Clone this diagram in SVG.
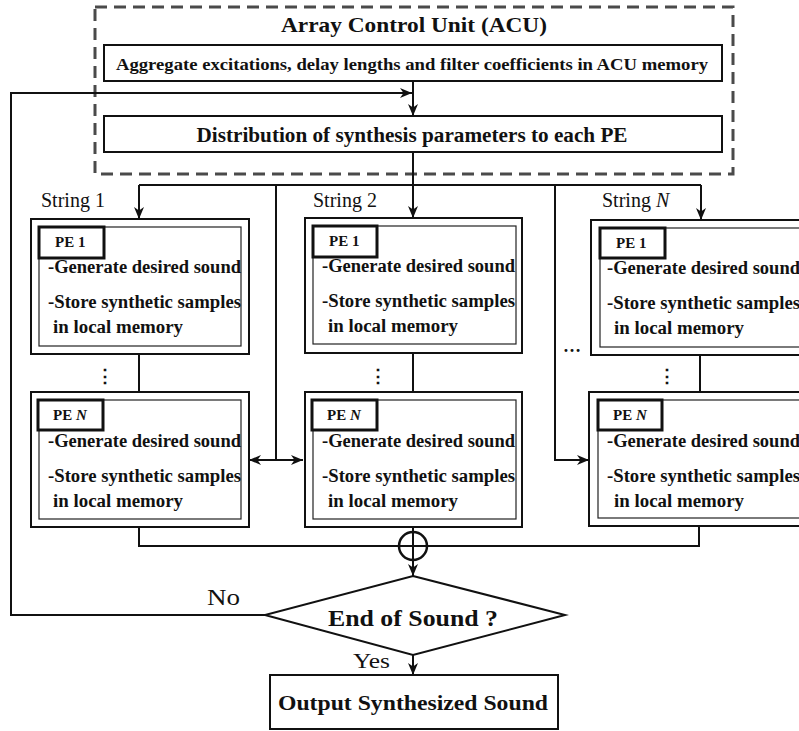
<svg xmlns="http://www.w3.org/2000/svg" width="799" height="731" viewBox="0 0 799 731">
<defs>
<style>
text{font-family:"Liberation Serif","Times New Roman",serif;fill:#111}
.b{font-weight:bold}
.acu{fill:none;stroke:#4a4a4a;stroke-width:3;stroke-dasharray:12 7}
.box{fill:#fff;stroke:#111;stroke-width:2}
.inner{fill:none;stroke:#222;stroke-width:1.2}
.lbl{fill:#fff;stroke:#111;stroke-width:3}
.ln{fill:none;stroke:#111;stroke-width:2}
.arr{marker-end:url(#ah)}
.pe{font-size:18px;font-weight:bold}
.pl{font-size:15px;font-weight:bold}
.str{font-size:20px}
.dots{font-size:18px;font-weight:bold}
</style>
<marker id="ah" viewBox="0 0 12 10" markerWidth="12" markerHeight="10" refX="12" refY="5" orient="auto-start-reverse" markerUnits="userSpaceOnUse">
<path d="M0,0 L12,5 L0,10 L3.5,5 z" fill="#111"/>
</marker>
</defs>
<rect width="799" height="731" fill="#fff"/>

<g id="acu">
<rect class="acu" x="95" y="7" width="638" height="167"/>
<text class="b" x="414" y="32" font-size="22" text-anchor="middle" textLength="266" lengthAdjust="spacingAndGlyphs">Array Control Unit (ACU)</text>
</g>
<g id="aggregate">
<rect class="box" x="104" y="45" width="618" height="36"/>
<text class="b" x="412" y="70" font-size="17" text-anchor="middle" textLength="592" lengthAdjust="spacingAndGlyphs">Aggregate excitations, delay lengths and filter coefficients in ACU memory</text>
</g>
<g id="distribution">
<rect class="box" x="104" y="116" width="618" height="36"/>
<text class="b" x="412" y="142" font-size="20" text-anchor="middle" textLength="431" lengthAdjust="spacingAndGlyphs">Distribution of synthesis parameters to each PE</text>
</g>

<g id="connectors">
<polyline class="ln arr" points="265,615 11,615 11,93 412,93"/>
<line class="ln arr" x1="413" y1="81" x2="413" y2="116"/>
<line class="ln" x1="413" y1="152" x2="413" y2="185"/>
<line class="ln" x1="139" y1="185" x2="701" y2="185"/>
<line class="ln arr" x1="139" y1="185" x2="139" y2="219"/>
<line class="ln arr" x1="413" y1="185" x2="413" y2="218"/>
<line class="ln arr" x1="701" y1="185" x2="701" y2="220"/>
<line class="ln" x1="276" y1="185" x2="276" y2="460"/>
<line class="ln" x1="249" y1="460" x2="303" y2="460" style="marker-start:url(#ah);marker-end:url(#ah)"/>
<polyline class="ln arr" points="555,185 555,460 589,460"/>
<line class="ln" x1="139" y1="354" x2="139" y2="392"/>
<line class="ln" x1="413" y1="353" x2="413" y2="392"/>
<line class="ln" x1="700" y1="355" x2="700" y2="392"/>
<polyline class="ln" points="139,527 139,546 699,546 699,526"/>
<line class="ln arr" x1="413" y1="527" x2="413" y2="576"/>
<line class="ln arr" x1="413" y1="655" x2="413" y2="675"/>
</g>

<g id="sum">
<circle cx="413" cy="546" r="14" fill="none" stroke="#111" stroke-width="2.5"/>
</g>

<g id="string1-pe1">
<text class="str" x="41" y="207">String 1</text>
<rect class="box" x="31" y="219" width="218" height="135"/>
<rect class="inner" x="39" y="227" width="202" height="119"/>
<rect class="lbl" x="39" y="227" width="65" height="31"/>
<text class="pl" x="55" y="247">PE 1</text>
<text class="pe" x="48" y="273" textLength="193" lengthAdjust="spacingAndGlyphs">-Generate desired sound</text>
<text class="pe" x="48" y="308" textLength="193" lengthAdjust="spacingAndGlyphs">-Store synthetic samples</text>
<text class="pe" x="53" y="333" textLength="130" lengthAdjust="spacingAndGlyphs">in local memory</text>
<text class="dots" x="105" y="382" text-anchor="middle">⋮</text>
</g>
<g id="string1-pen">
<rect class="box" x="31" y="392" width="218" height="135"/>
<rect class="inner" x="39" y="400" width="202" height="119"/>
<rect class="lbl" x="38" y="400" width="65" height="30"/>
<text class="pl" x="53" y="420">PE <tspan font-style="italic">N</tspan></text>
<text class="pe" x="48" y="447" textLength="193" lengthAdjust="spacingAndGlyphs">-Generate desired sound</text>
<text class="pe" x="48" y="482" textLength="193" lengthAdjust="spacingAndGlyphs">-Store synthetic samples</text>
<text class="pe" x="53" y="507" textLength="130" lengthAdjust="spacingAndGlyphs">in local memory</text>
</g>

<g id="string2-pe1">
<text class="str" x="313" y="207">String 2</text>
<rect class="box" x="305" y="218" width="217" height="135"/>
<rect class="inner" x="313" y="226" width="203" height="118"/>
<rect class="lbl" x="313" y="226" width="64" height="31"/>
<text class="pl" x="329" y="246">PE 1</text>
<text class="pe" x="322" y="272" textLength="193" lengthAdjust="spacingAndGlyphs">-Generate desired sound</text>
<text class="pe" x="322" y="307" textLength="193" lengthAdjust="spacingAndGlyphs">-Store synthetic samples</text>
<text class="pe" x="328" y="332" textLength="130" lengthAdjust="spacingAndGlyphs">in local memory</text>
<text class="dots" x="378" y="382" text-anchor="middle">⋮</text>
</g>
<g id="string2-pen">
<rect class="box" x="305" y="392" width="217" height="135"/>
<rect class="inner" x="313" y="400" width="203" height="119"/>
<rect class="lbl" x="312" y="400" width="65" height="30"/>
<text class="pl" x="327" y="420">PE <tspan font-style="italic">N</tspan></text>
<text class="pe" x="322" y="447" textLength="193" lengthAdjust="spacingAndGlyphs">-Generate desired sound</text>
<text class="pe" x="322" y="482" textLength="193" lengthAdjust="spacingAndGlyphs">-Store synthetic samples</text>
<text class="pe" x="328" y="507" textLength="130" lengthAdjust="spacingAndGlyphs">in local memory</text>
</g>

<g id="stringN-pe1">
<text class="str" x="602" y="207">String <tspan font-style="italic">N</tspan></text>
<rect class="box" x="591" y="220" width="218" height="135"/>
<rect class="inner" x="600" y="228" width="210" height="119"/>
<rect class="lbl" x="600" y="228" width="65" height="30"/>
<text class="pl" x="616" y="248">PE 1</text>
<text class="pe" x="607" y="274" textLength="193" lengthAdjust="spacingAndGlyphs">-Generate desired sound</text>
<text class="pe" x="607" y="309" textLength="193" lengthAdjust="spacingAndGlyphs">-Store synthetic samples</text>
<text class="pe" x="614" y="334" textLength="130" lengthAdjust="spacingAndGlyphs">in local memory</text>
<text class="dots" x="667" y="382" text-anchor="middle">⋮</text>
<text class="dots" x="572" y="352" text-anchor="middle">…</text>
</g>
<g id="stringN-pen">
<rect class="box" x="589" y="392" width="220" height="134"/>
<rect class="inner" x="598" y="400" width="212" height="118"/>
<rect class="lbl" x="598" y="400" width="64" height="30"/>
<text class="pl" x="613" y="420">PE <tspan font-style="italic">N</tspan></text>
<text class="pe" x="607" y="447" textLength="193" lengthAdjust="spacingAndGlyphs">-Generate desired sound</text>
<text class="pe" x="607" y="482" textLength="193" lengthAdjust="spacingAndGlyphs">-Store synthetic samples</text>
<text class="pe" x="614" y="507" textLength="130" lengthAdjust="spacingAndGlyphs">in local memory</text>
</g>

<g id="decision">
<polygon points="413,576 565,615 413,655 265,615" fill="#fff" stroke="#111" stroke-width="2"/>
<text class="b" x="413" y="626" font-size="23" text-anchor="middle" textLength="170" lengthAdjust="spacingAndGlyphs">End of Sound ?</text>
<text x="207" y="605" font-size="24" textLength="33" lengthAdjust="spacingAndGlyphs">No</text>
<text x="353" y="668" font-size="22" textLength="37" lengthAdjust="spacingAndGlyphs">Yes</text>
</g>

<g id="output">
<rect class="box" x="270" y="675" width="288" height="54"/>
<text class="b" x="413" y="710" font-size="22" text-anchor="middle" textLength="270" lengthAdjust="spacingAndGlyphs">Output Synthesized Sound</text>
</g>
</svg>
